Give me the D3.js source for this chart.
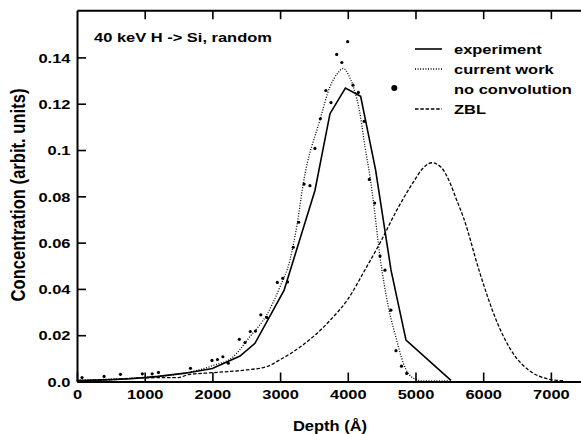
<!DOCTYPE html>
<html><head><meta charset="utf-8">
<script src="https://cdn.jsdelivr.net/npm/d3@7"></script>
<style>
body{margin:0;background:#fff}
svg text{font-family:"Liberation Sans",Arial,Helvetica,sans-serif;font-weight:bold;fill:#000}
</style></head><body>
<svg id="chart" width="581" height="434"></svg>
<script>
// ---- data ----
const xTickValues = [0,1000,2000,3000,4000,5000,6000,7000];
const xTickLabels = ["0","1000","2000","3000","4000","5000","6000","7000"];
const yTickValues = [0,0.02,0.04,0.06,0.08,0.10,0.12,0.14];
const yTickLabels = ["0.0","0.02","0.04","0.06","0.08","0.1","0.12","0.14"];

const seriesNames = ["experiment","current work","no convolution","ZBL"];

const expDepth = [0,400,800,1200,1600,2000,2408,2629,3060,3515,3737,3965,4190,4410,4638,4860,5524];
const expConc  = [0.0004,0.0007,0.0012,0.0022,0.0036,0.0056,0.0110,0.0165,0.0395,0.0825,0.1157,0.1268,0.1232,0.0915,0.0482,0.0179,0.0005];

const cwDepth = [0,500,1000,1500,1800,2000,2300,2555,2800,3000,3146,3254,3343,3589,3737,3860,3934,4010,4082,4180,4254,4328,4377,4476,4599,4722,4820,4968,5100,5520];
const cwConc  = [0.0005,0.0010,0.0018,0.0032,0.0050,0.0068,0.0105,0.0194,0.0287,0.0410,0.0525,0.0683,0.0856,0.1130,0.1273,0.1335,0.1353,0.1325,0.1273,0.1158,0.1014,0.0885,0.0780,0.0539,0.0323,0.0179,0.0079,0.0014,0.0003,0.0002];

const ncDepth = [74,400,642,965,1110,1203,1676,1994,2075,2155,2235,2398,2482,2560,2636,2715,2802,2959,3038,3110,3195,3275,3355,3441,3515,3594,3676,3752,3836,3912,3998,4077,4156,4242,4318,4397,4476,4549,4636,4712,4793,4870];
const ncConc  = [0.0017,0.0022,0.0031,0.0033,0.0033,0.0039,0.0057,0.0091,0.0095,0.0107,0.0079,0.0182,0.0168,0.0216,0.0218,0.0288,0.0277,0.0428,0.0446,0.0430,0.0580,0.0688,0.0853,0.0846,0.1007,0.1135,0.1257,0.1205,0.1413,0.1378,0.1468,0.1280,0.1249,0.1124,0.0873,0.0771,0.0542,0.0481,0.0308,0.0133,0.0066,0.0035];

const zblDepth = [0,500,1000,1500,1650,2000,2500,2800,3000,3300,3500,3750,4000,4250,4500,4720,4970,5100,5240,5380,5510,5608,5707,5953,6199,6445,6691,6938,7086,7200];
const zblConc  = [0.0003,0.0008,0.0016,0.0017,0.0030,0.0038,0.0050,0.0064,0.0094,0.0150,0.0196,0.0268,0.0355,0.0480,0.0612,0.0738,0.0862,0.0918,0.0945,0.0925,0.0858,0.0784,0.0710,0.0467,0.0260,0.0120,0.0045,0.0012,0.0005,0.0003];

// ---- chart ----
const svg = d3.select("#chart");
const x = d3.scaleLinear().domain([0,7445]).range([77,581]);
const y = d3.scaleLinear().domain([0,0.1604]).range([381.5,10.2]);
const S = 1.22, FS = 13.5;

function styleAxis(g){
  g.attr("font-size",null).attr("font-family",null);
  g.select(".domain").attr("stroke","#000").attr("stroke-width",2);
  g.selectAll(".tick line").attr("stroke","#000").attr("stroke-width",1.6);
}

// bottom axis
const gx = svg.append("g").attr("transform",`translate(0,${y(0)})`)
  .call(d3.axisBottom(x).tickValues(xTickValues).tickFormat((d,i)=>xTickLabels[i]).tickSizeInner(-9).tickSizeOuter(0));
styleAxis(gx);
gx.selectAll(".tick text").attr("x",0).attr("y",0).attr("dy",0)
  .style("font-size",FS+"px").attr("transform",`translate(0,17.5) scale(${S},1)`);

// top axis
const gt = svg.append("g").attr("transform",`translate(0,${y(0.1604)})`)
  .call(d3.axisTop(x).tickValues(xTickValues.slice(1)).tickFormat(()=> "").tickSizeInner(-9).tickSizeOuter(0));
styleAxis(gt);

// left axis
const gy = svg.append("g").attr("transform",`translate(${x(0)},0)`)
  .call(d3.axisLeft(y).tickValues(yTickValues).tickFormat((d,i)=>yTickLabels[i]).tickSizeInner(-9).tickSizeOuter(0));
styleAxis(gy);
gy.selectAll(".tick text").attr("x",0).attr("dy","0.35em")
  .style("font-size",FS+"px").attr("transform",`translate(-6.5,0) scale(${S},1)`);

// axis titles
svg.append("text").attr("text-anchor","middle").style("font-size","15px")
  .attr("transform",`translate(330,431) scale(1.1,1)`).text("Depth (Å)");
svg.append("text").attr("text-anchor","middle").style("font-size","16.6px")
  .attr("transform",`translate(25,195) rotate(-90) scale(1,1.2)`).text("Concentration (arbit. units)");

// annotation
svg.append("text").style("font-size",FS+"px")
  .attr("transform",`translate(94,41.5) scale(${S},1)`).text("40 keV H -> Si, random");

// series
const zip = (a,b)=>a.map((d,i)=>[d,b[i]]);
const line = d3.line().x(d=>x(d[0])).y(d=>y(d[1]));
const smooth = d3.line().x(d=>x(d[0])).y(d=>y(d[1])).curve(d3.curveMonotoneX);

svg.append("path").datum(zip(zblDepth,zblConc)).attr("d",smooth)
  .attr("fill","none").attr("stroke","#000").attr("stroke-width",1.3).attr("stroke-dasharray","3.5,1.8");
svg.append("path").datum(zip(cwDepth,cwConc)).attr("d",smooth)
  .attr("fill","none").attr("stroke","#000").attr("stroke-width",1.3).attr("stroke-dasharray","1,1.6");
svg.append("path").datum(zip(expDepth,expConc)).attr("d",line)
  .attr("fill","none").attr("stroke","#000").attr("stroke-width",1.6);
svg.append("g").selectAll("circle").data(zip(ncDepth,ncConc)).join("circle")
  .attr("cx",d=>x(d[0])).attr("cy",d=>y(d[1])).attr("r",1.6).attr("fill","#000");

// legend
const lg = svg.append("g");
const rowsY = [49,69,89,109];
const styles = [
  {dash:null,w:1.6},{dash:"1,1.6",w:1.3},null,{dash:"3.5,1.8",w:1.3}
];
seriesNames.forEach((name,i)=>{
  const yy = rowsY[i];
  if(styles[i]){
    lg.append("line").attr("x1",415).attr("x2",442).attr("y1",yy).attr("y2",yy)
      .attr("stroke","#000").attr("stroke-width",styles[i].w)
      .attr("stroke-dasharray",styles[i].dash);
  } else {
    lg.append("circle").attr("cx",394.3).attr("cy",yy-1).attr("r",3).attr("fill","#000");
  }
  lg.append("text").style("font-size",FS+"px")
    .attr("transform",`translate(454,${yy+5}) scale(${S},1)`).text(name);
});
</script>
</body></html>
